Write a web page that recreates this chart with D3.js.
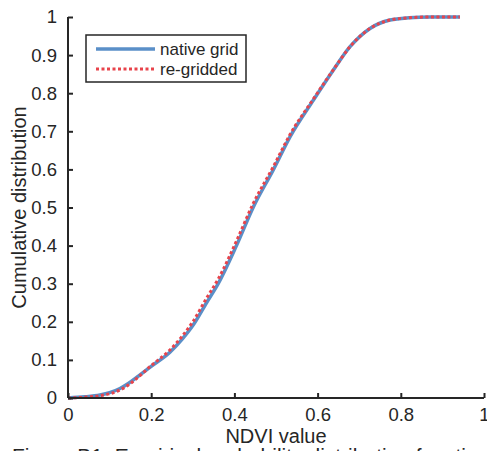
<!DOCTYPE html>
<html>
<head>
<meta charset="utf-8">
<script src="https://cdn.jsdelivr.net/npm/d3@7"></script>
<style>
  html, body { margin: 0; padding: 0; background: #fff; }
  svg { display: block; }
  text { font-family: "Liberation Sans", Arial, Helvetica, sans-serif; fill: #262626; }
</style>
</head>
<body>
<svg id="chart" width="487" height="451"></svg>
<script>
const ndvi = [0, 0.04, 0.077, 0.1, 0.125, 0.145, 0.17, 0.2, 0.245, 0.275, 0.3, 0.333, 0.361, 0.405, 0.445, 0.494, 0.534, 0.59, 0.638, 0.678, 0.726, 0.774, 0.82, 0.87, 0.942];
const nativeGrid = [0, 0.003, 0.008, 0.014, 0.025, 0.038, 0.058, 0.083, 0.12, 0.155, 0.19, 0.25, 0.3, 0.4, 0.5, 0.6, 0.686, 0.782, 0.861, 0.922, 0.970, 0.992, 0.998, 1.0, 1.0];
const reGridded = [0, 0.002, 0.006, 0.011, 0.021, 0.034, 0.056, 0.085, 0.126, 0.163, 0.2, 0.262, 0.312, 0.412, 0.51, 0.608, 0.692, 0.785, 0.862, 0.922, 0.970, 0.992, 0.998, 1.0, 1.0];
const xTicks = [0, 0.2, 0.4, 0.6, 0.8, 1];
const yTicks = [0, 0.1, 0.2, 0.3, 0.4, 0.5, 0.6, 0.7, 0.8, 0.9, 1];
const seriesNames = ["native grid", "re-gridded"];

const svg = d3.select("#chart");
const mLeft = 68, mRight = 484, mTop = 17, mBottom = 398;
const x = d3.scaleLinear().domain([0, 1]).range([mLeft, mRight]);
const y = d3.scaleLinear().domain([0, 1]).range([mBottom, mTop]);

const blue = "#5a8fc8", red = "#e8434b", axisCol = "#262626";

// Lines
const line = d3.line().x(d => x(d[0])).y(d => y(d[1])).curve(d3.curveMonotoneX);
svg.append("path")
  .datum(ndvi.map((v, i) => [v, nativeGrid[i]]))
  .attr("d", line).attr("fill", "none")
  .attr("stroke", blue).attr("stroke-width", 3.5);
svg.append("path")
  .datum(ndvi.map((v, i) => [v, reGridded[i]]))
  .attr("d", line).attr("fill", "none")
  .attr("stroke", red).attr("stroke-width", 3)
  .attr("stroke-dasharray", "3,2.5");

// Axes
const xAxis = d3.axisBottom(x).tickValues(xTicks).tickSize(-5).tickPadding(10)
  .tickFormat(d => d3.format("")(d));
const gx = svg.append("g").attr("transform", `translate(0,${mBottom})`).call(xAxis);
const yAxis = d3.axisLeft(y).tickValues(yTicks).tickSize(-5).tickPadding(11)
  .tickFormat(d => d3.format("")(d));
const gy = svg.append("g").attr("transform", `translate(${mLeft},0)`).call(yAxis);
[gx, gy].forEach(g => {
  g.select(".domain").attr("stroke", axisCol).attr("stroke-width", 2);
  g.selectAll(".tick line").attr("stroke", axisCol).attr("stroke-width", 2);
  g.selectAll(".tick text").attr("font-size", 18.5)
    .attr("font-family", "Liberation Sans, Arial, sans-serif").attr("fill", axisCol);
});
gy.select(".domain").attr("d", `M0,${mBottom}V${mTop}`);
gx.select(".domain").attr("d", `M${mLeft},0H${mRight}`);

// Axis labels
svg.append("text").attr("x", (mLeft + mRight) / 2).attr("y", 443)
  .attr("text-anchor", "middle").attr("font-size", 20).text("NDVI value");
svg.append("text").attr("transform", `translate(26,${(mTop + mBottom) / 2}) rotate(-90)`)
  .attr("text-anchor", "middle").attr("font-size", 20).text("Cumulative distribution");

// Legend
const lg = svg.append("g");
lg.append("rect").attr("x", 86).attr("y", 35).attr("width", 160).attr("height", 47)
  .attr("fill", "#fff").attr("stroke", axisCol).attr("stroke-width", 1.5);
const ly = [49, 69];
[blue, red].forEach((c, i) => {
  const l = lg.append("line").attr("x1", 96).attr("x2", 155).attr("y1", ly[i]).attr("y2", ly[i])
    .attr("stroke", c).attr("stroke-width", i === 0 ? 3.5 : 3);
  if (i === 1) l.attr("stroke-dasharray", "3,2.5");
  lg.append("text").attr("x", 160).attr("y", ly[i] + 6).attr("font-size", 17).text(seriesNames[i]);
});

// Caption (cut off at bottom)
svg.append("text").attr("x", 12).attr("y", 463)
  .attr("font-family", "Liberation Serif, Times New Roman, serif").attr("font-size", 21)
  .attr("fill", "#000")
  .text("Figure B1. Empirical probability distribution function");
</script>
</body>
</html>
